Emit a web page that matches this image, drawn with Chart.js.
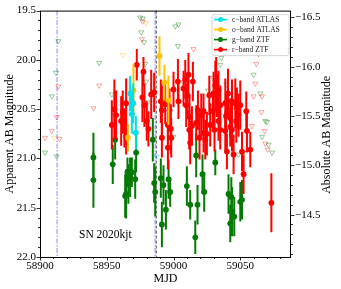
<!DOCTYPE html>
<html>
<head>
<meta charset="utf-8">
<script src="https://cdn.jsdelivr.net/npm/chart.js@4.4.0/dist/chart.umd.min.js"></script>
<style>
  html, body { margin: 0; padding: 0; background: #fff; }
</style>
</head>
<body>
<canvas id="lc" width="341" height="289"></canvas>
<script>
// ZTF g-band detections
const gMjd = [58940.0, 58940.0, 58954.5, 58956.3, 58965.5, 58967.5, 58964.5, 58966.2, 58971.3, 58968.8,
              58972.0, 58963.8, 58984.5, 58985.5, 58986.3, 58990.5, 58992.5, 58994.3, 58991.3, 58996.3,
              58997.5, 59017.0, 59010.0, 59012.5, 59016.3, 59018.0, 59021.7, 59023.0, 59031.3, 59041.2,
              59043.3, 59042.5, 59043.8, 59050.0, 59045.5, 59051.3];
const gMag = [20.99, 21.22, 21.06, 20.81, 21.14, 21.19, 21.36, 21.26, 21.21, 21.14,
              20.94, 21.38, 20.81, 21.25, 21.34, 21.20, 21.27, 21.52, 21.67, 21.21,
              21.34, 20.97, 21.28, 21.47, 21.80, 21.47, 21.16, 21.34, 21.04, 21.36,
              21.39, 21.66, 21.54, 21.44, 21.59, 21.42];
const gErr = [0.25, 0.28, 0.20, 0.20, 0.15, 0.20, 0.25, 0.20, 0.20, 0.15,
              0.20, 0.22, 0.22, 0.20, 0.25, 0.20, 0.20, 0.20, 0.23, 0.20,
              0.15, 0.22, 0.20, 0.15, 0.17, 0.20, 0.20, 0.20, 0.13, 0.20,
              0.20, 0.19, 0.25, 0.20, 0.20, 0.20];

// ZTF r-band detections
const rMjd = [58972.5, 58977.5, 58955.7, 58953.8, 58960.8, 58962.0, 58963.2, 58964.5, 58957.0, 58964.5,
              58983.3, 58985.5, 58978.2, 58976.7, 58980.0, 58981.2, 58990.5, 58993.8, 58991.3, 58995.8,
              58997.0, 59000.0, 59003.3, 59008.8, 59011.2, 59014.5, 59007.5, 59010.5, 59009.5, 59003.7,
              58998.0, 59018.3, 59020.8, 59022.5, 59026.8, 59032.5, 59032.0, 59033.7, 59035.0, 59038.8,
              59043.8, 59046.3, 59047.0, 59042.5, 59022.5, 59027.5, 59035.0, 59017.0, 59012.0, 59013.8,
              58998.3, 59019.5, 58991.3, 59025.0, 58995.8, 59011.8, 59012.5, 59023.8, 59030.0, 59031.3,
              59029.5, 59033.7, 59030.7, 59040.8, 59039.3, 59038.8, 59047.5, 59050.0, 59048.7, 59054.5,
              59043.8, 59042.5, 59055.0, 59057.5, 59045.0, 59040.0, 59051.3, 59052.5, 59073.3];
const rMag = [20.05, 20.12, 20.50, 20.66, 20.62, 20.53, 20.69, 20.44, 20.56, 20.78,
              20.35, 20.33, 20.46, 20.38, 20.62, 20.70, 20.42, 20.45, 20.51, 20.66,
              20.51, 20.30, 20.22, 20.20, 20.15, 20.22, 20.29, 20.36, 20.46, 20.42,
              20.70, 20.51, 20.56, 20.52, 20.36, 20.36, 20.22, 20.31, 20.46, 20.44,
              20.42, 20.44, 20.62, 20.68, 20.74, 20.66, 20.71, 20.64, 20.58, 20.67,
              20.79, 20.79, 20.79, 20.75, 20.89, 20.71, 20.84, 20.81, 20.34, 20.26,
              20.52, 20.62, 20.71, 20.34, 20.57, 20.72, 20.49, 20.46, 20.56, 20.52,
              20.71, 20.59, 20.72, 20.91, 20.96, 20.93, 20.93, 21.16, 21.45];
const rErr = [0.16, 0.15, 0.30, 0.25, 0.25, 0.22, 0.20, 0.25, 0.25, 0.18,
              0.25, 0.20, 0.22, 0.25, 0.20, 0.18, 0.22, 0.20, 0.25, 0.20,
              0.22, 0.18, 0.23, 0.20, 0.22, 0.20, 0.18, 0.20, 0.22, 0.18,
              0.25, 0.20, 0.22, 0.18, 0.20, 0.22, 0.25, 0.20, 0.20, 0.25,
              0.22, 0.25, 0.22, 0.20, 0.20, 0.22, 0.20, 0.18, 0.22, 0.20,
              0.20, 0.22, 0.20, 0.22, 0.22, 0.20, 0.22, 0.20, 0.22, 0.25,
              0.20, 0.20, 0.22, 0.25, 0.22, 0.20, 0.21, 0.25, 0.22, 0.20,
              0.22, 0.20, 0.22, 0.18, 0.20, 0.18, 0.20, 0.20, 0.30];

// ATLAS c-band and o-band detections
const cMjd = [58967.5, 58968.8, 58969.8, 58971.8];
const cMag = [20.34, 20.55, 20.44, 20.74];
const cErr = [0.18, 0.20, 0.20, 0.17];
const oMjd = [58965.8, 58970.0, 58989.5, 58993.2, 58996.2];
const oMag = [20.79, 20.31, 19.96, 20.23, 20.41];
const oErr = [0.14, 0.27, 0.20, 0.18, 0.25];

// upper limits
const gLimMjd = [58913.7, 58912.0, 58908.8, 58944.3, 58953.8, 58903.8, 58912.5, 58975.0, 58977.0, 58978.0,
                 58978.8, 58979.5, 59001.3, 59003.7, 59003.3, 59029.5, 59035.0, 59035.8, 59031.3, 59039.5,
                 59025.8, 59000.0, 59063.7, 59060.0, 59065.0, 59068.8, 59070.0, 59066.3, 59071.2, 59073.8,
                 59087.0, 59048.7, 59052.3, 58975.8, 58980.7];
const gLimMag = [19.81, 20.13, 20.37, 20.03, 20.35, 20.94, 20.98, 19.57, 19.58, 19.82,
                 20.04, 20.22, 19.66, 19.64, 19.86, 20.18, 20.05, 19.98, 19.85, 20.25,
                 20.31, 20.78, 19.94, 20.15, 20.34, 20.62, 20.63, 20.78, 20.86, 20.94,
                 19.90, 20.96, 20.94, 19.72, 20.43];
const rLimMjd = [58913.7, 58944.3, 58912.5, 58940.0, 58908.8, 58903.8, 58914.5, 58977.0, 58976.3, 59015.0,
                 59062.0, 59061.3, 59066.3, 59063.0, 59060.0, 59065.8, 59068.2, 59068.8, 59070.5, 59058.8,
                 59032.5];
const rLimMag = [20.27, 20.26, 20.58, 20.49, 20.72, 20.79, 20.80, 19.61, 19.79, 19.89,
                 20.04, 20.24, 20.37, 19.84, 20.37, 20.53, 20.72, 20.85, 20.91, 20.67,
                 19.85];
const oLimMjd = [58910.5, 58962.0, 58979.5];
const oLimMag = [20.79, 19.95, 19.63];
const cLimMjd = [58987.5];
const cLimMag = [20.98];

// axes
const xTicks = [58900, 58950, 59000, 59050];
const yTicks = [19.5, 20.0, 20.5, 21.0, 21.5, 22.0];
const y2Ticks = [-16.5, -16.0, -15.5, -15.0, -14.5];
const distMod = 36.07;
const markLines = [58912.8, 58986.3];

const RED = '#ff0000';
const GREEN = '#047a04';
const CYAN = '#00e0e6';
const GOLD = '#ffc107';
const SERIF = '"Liberation Serif", "DejaVu Serif", serif';

const pts = (xs, ys) => xs.map((x, i) => ({ x: x, y: ys[i] }));

const detection = (label, xs, ys, es, color, order) => ({
    label: label,
    data: pts(xs, ys),
    err: es,
    errColor: color,
    backgroundColor: color,
    borderColor: color,
    borderWidth: 0,
    pointRadius: 2.9,
    order: order
});

const limit = (xs, ys, rgba, order) => ({
    data: pts(xs, ys),
    pointStyle: 'triangle',
    rotation: 180,
    pointRadius: 2.9,
    borderWidth: 0.8,
    borderColor: rgba,
    backgroundColor: 'rgba(0,0,0,0)',
    order: order
});

// linhas verticais, barras de erro, moldura, legenda
const decor = {
    id: 'decor',
    beforeDatasetsDraw(chart) {
        const { ctx, chartArea: a, scales: { x } } = chart;
        ctx.save();
        ctx.lineWidth = 1.6;
        ctx.strokeStyle = 'rgba(140,140,255,0.65)';
        ctx.setLineDash([5, 1.5, 1.5, 1.5]);
        markLines.forEach(m => {
            const px = x.getPixelForValue(m);
            ctx.beginPath(); ctx.moveTo(px, a.top); ctx.lineTo(px, a.bottom); ctx.stroke();
        });
        ctx.lineWidth = 1;
        ctx.strokeStyle = '#555';
        ctx.setLineDash([3, 2]);
        const px = x.getPixelForValue(markLines[1] + 0.8);
        ctx.beginPath(); ctx.moveTo(px, a.top); ctx.lineTo(px, a.bottom); ctx.stroke();
        ctx.restore();
    },
    beforeDatasetDraw(chart, args) {
        const ds = chart.data.datasets[args.index];
        if (!ds.err) return;
        const { ctx, chartArea: a, scales: { x, y } } = chart;
        ctx.save();
        ctx.beginPath(); ctx.rect(a.left, a.top, a.right - a.left, a.bottom - a.top); ctx.clip();
        ctx.strokeStyle = ds.errColor;
        ctx.lineWidth = 2;
        ds.data.forEach((p, i) => {
            const px = x.getPixelForValue(p.x);
            ctx.beginPath();
            ctx.moveTo(px, y.getPixelForValue(p.y - ds.err[i]));
            ctx.lineTo(px, y.getPixelForValue(p.y + ds.err[i]));
            ctx.stroke();
        });
        ctx.restore();
    },
    afterDraw(chart) {
        const { ctx, chartArea: a, scales: { x, y, y2 } } = chart;
        ctx.save();
        ctx.strokeStyle = '#000';
        ctx.lineWidth = 1;
        ctx.strokeRect(a.left + 0.5, a.top + 0.5, a.right - a.left - 1, a.bottom - a.top);

        // marcas principais e secundárias
        ctx.lineWidth = 0.8;
        const tick = (x0, y0, x1, y1) => { ctx.beginPath(); ctx.moveTo(x0, y0); ctx.lineTo(x1, y1); ctx.stroke(); };
        for (let v = 58900; v <= 59088; v += 10) {
            const px = Math.round(x.getPixelForValue(v)) + 0.5;
            tick(px, a.bottom, px, a.bottom + (v % 50 === 0 ? 3.5 : 2));
        }
        for (let k = 195; k <= 220; k++) {
            const py = Math.round(y.getPixelForValue(k / 10)) + 0.5;
            tick(a.left, py, a.left - (k % 5 === 0 ? 3.5 : 2), py);
        }
        for (let k = -165; k <= -141; k++) {
            const py = Math.round(y2.getPixelForValue(k / 10)) + 0.5;
            tick(a.right, py, a.right + (k % 5 === 0 ? 3.5 : 2), py);
        }

        // título do eixo direito
        ctx.fillStyle = '#000';
        ctx.font = '12px ' + SERIF;
        ctx.textAlign = 'center';
        ctx.textBaseline = 'middle';
        ctx.translate(327, (a.top + a.bottom) / 2 + 1);
        ctx.rotate(-Math.PI / 2);
        ctx.fillText('Absolute AB Magnitude', 0, 0);
        ctx.setTransform(1, 0, 0, 1, 0, 0);

        // nome do objeto
        ctx.font = '11.5px ' + SERIF;
        ctx.textAlign = 'left';
        ctx.fillText('SN 2020kjt', a.left + 39, a.top + 224);

        // legenda
        const items = [
            ['c\u2212band ATLAS', CYAN],
            ['o\u2212band ATLAS', GOLD],
            ['g\u2212band ZTF', GREEN],
            ['r\u2212band ZTF', RED]
        ];
        const bx = a.right - 79, by = a.top + 4;
        ctx.beginPath();
        ctx.roundRect(bx, by, 77, 41, 2);
        ctx.fillStyle = 'rgba(255,255,255,0.85)';
        ctx.fill();
        ctx.strokeStyle = '#cccccc';
        ctx.lineWidth = 0.8;
        ctx.stroke();
        ctx.font = '7.5px ' + SERIF;
        items.forEach(([label, color], i) => {
            const ry = by + 5 + i * 10;
            ctx.strokeStyle = color;
            ctx.lineWidth = 1.6;
            tick(bx + 2, ry, bx + 15, ry);
            ctx.fillStyle = color;
            ctx.beginPath(); ctx.arc(bx + 8.5, ry, 2.5, 0, Math.PI * 2); ctx.fill();
            ctx.fillStyle = '#222';
            ctx.fillText(label, bx + 20, ry + 0.5);
        });
        ctx.restore();
    }
};

const tickFont = { family: SERIF, size: 11 };
const titleFont = { family: SERIF, size: 12 };

new Chart(document.getElementById('lc'), {
    type: 'scatter',
    data: {
        datasets: [
            detection('c', cMjd, cMag, cErr, CYAN, 1),
            detection('o', oMjd, oMag, oErr, GOLD, 2),
            detection('r', rMjd, rMag, rErr, RED, 3),
            detection('g', gMjd, gMag, gErr, GREEN, 4),
            limit(cLimMjd, cLimMag, 'rgba(0,200,220,0.5)', 5),
            limit(oLimMjd, oLimMag, 'rgba(255,170,0,0.45)', 6),
            limit(rLimMjd, rLimMag, 'rgba(255,0,0,0.45)', 7),
            limit(gLimMjd, gLimMag, 'rgba(0,120,0,0.5)', 8)
        ]
    },
    options: {
        responsive: false,
        animation: false,
        devicePixelRatio: 1,
        layout: { padding: { top: 8, left: 0, right: 0, bottom: 0 } },
        plugins: { legend: { display: false }, tooltip: { enabled: false } },
        scales: {
            x: {
                type: 'linear', min: 58900, max: 59088,
                afterFit: s => { s.height = 32; },
                afterBuildTicks: s => { s.ticks = xTicks.map(v => ({ value: v })); },
                grid: { display: false, drawTicks: false },
                border: { display: false },
                ticks: { padding: 3, font: tickFont, color: '#000', maxRotation: 0, callback: v => String(v) },
                title: { display: true, text: 'MJD', font: titleFont, color: '#000', padding: { top: 0, bottom: 3 } }
            },
            y: {
                position: 'left', reverse: true, min: 19.5, max: 22.0,
                afterFit: s => { s.width = 40; },
                afterBuildTicks: s => { s.ticks = yTicks.map(v => ({ value: v })); },
                grid: { display: false, drawTicks: false },
                border: { display: false },
                ticks: { padding: 4, font: tickFont, color: '#000', callback: v => v.toFixed(1) },
                title: { display: true, text: 'Apparent AB Magnitude', font: titleFont, color: '#000', padding: { top: 3, bottom: 0 } }
            },
            y2: {
                position: 'right', reverse: true, min: 19.5 - distMod, max: 22.0 - distMod,
                afterFit: s => { s.width = 50; },
                afterBuildTicks: s => { s.ticks = y2Ticks.map(v => ({ value: v })); },
                grid: { display: false, drawTicks: false },
                border: { display: false },
                ticks: { padding: 4, font: tickFont, color: '#000', callback: v => '\u2212' + Math.abs(v).toFixed(1) }
            }
        }
    },
    plugins: [decor]
});
</script>
</body>
</html>
